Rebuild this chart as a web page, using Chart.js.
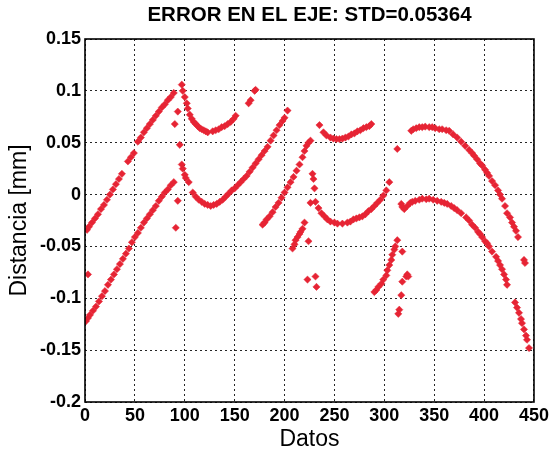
<!DOCTYPE html>
<html>
<head>
<meta charset="utf-8">
<script src="https://cdn.jsdelivr.net/npm/chart.js@4/dist/chart.umd.min.js"></script>
<style>
  html, body { margin: 0; padding: 0; background: #ffffff; }
  #wrap { width: 552px; height: 453px; }
</style>
</head>
<body>
<div id="wrap"><canvas id="errorChart" width="552" height="453"></canvas></div>
<script>
// Rama superior de la medida
const superiorX = [2, 4, 7, 10, 13, 16, 19, 22, 25, 28, 31, 34, 37, 43, 46, 49, 53, 56, 59, 62, 65, 68, 71, 74, 77, 80, 83, 86, 89,
    97, 98, 100, 102, 103, 105, 107, 109, 111, 113, 115, 117, 119, 121, 123, 128, 131, 134, 137, 140, 143, 146, 149, 151,
    164, 166, 170, 171,
    235, 239, 242, 246, 249, 252, 255, 258, 261, 264, 267, 270, 273, 276, 279, 282, 285, 287,
    327, 329, 332, 335, 338, 341, 345, 348, 351, 355, 358, 362, 365, 369, 373, 377, 381, 385, 388, 390, 393, 396, 398, 401,
    403, 405, 408, 411, 414, 416, 418, 421, 423, 426, 428, 430, 432, 434, 440, 441];
const superiorY = [-0.034, -0.031, -0.027, -0.023, -0.019, -0.014, -0.010, -0.005, 0.000, 0.005, 0.010, 0.015, 0.020, 0.032, 0.036, 0.040, 0.051, 0.055, 0.060, 0.064, 0.068, 0.072, 0.076, 0.080, 0.084, 0.087, 0.091, 0.094, 0.098,
    0.106, 0.100, 0.094, 0.088, 0.083, 0.077, 0.073, 0.070, 0.068, 0.066, 0.064, 0.063, 0.062, 0.061, 0.060, 0.061, 0.062, 0.063, 0.065, 0.066, 0.068, 0.070, 0.073, 0.076,
    0.088, 0.091, 0.100, 0.101,
    0.067, 0.060, 0.057, 0.055, 0.054, 0.0535, 0.0535, 0.054, 0.055, 0.056, 0.058, 0.059, 0.061, 0.062, 0.064, 0.065, 0.066, 0.068,
    0.0615, 0.063, 0.064, 0.065, 0.065, 0.0655, 0.065, 0.065, 0.064, 0.063, 0.063, 0.062, 0.0615, 0.058, 0.055, 0.051, 0.047, 0.043, 0.040, 0.0375, 0.034, 0.030, 0.028, 0.024,
    0.021, 0.018, 0.013, 0.009, 0.004, 0.000, -0.004, -0.011, -0.018, -0.022, -0.027, -0.031, -0.035, -0.041, -0.063, -0.066];

// Rama inferior
const inferiorX = [1, 3, 5, 8, 11, 14, 17, 20, 23, 26, 29, 32, 35, 38, 41, 44, 47, 50, 53, 56, 59, 62, 65, 68, 71, 74, 77, 80, 83, 86, 89,
    104, 108, 111, 114, 117, 120, 123, 126, 129, 132, 135, 138, 141, 144, 147, 150, 153, 156, 159, 162, 165, 168, 171, 174, 177, 180, 183, 186, 189, 192, 195, 198, 200, 203,
    178, 180, 182, 185, 188, 191, 194, 197, 200, 203, 206, 209, 212, 215, 218, 220, 222, 224, 226,
    228, 229, 230, 226, 231, 234, 237, 240, 243, 246, 250, 253, 258, 263, 266, 269, 272, 275, 278, 281, 284, 287, 290, 293, 296, 299, 302, 305,
    208, 210, 211, 213, 215, 216, 218, 220,
    290, 292, 294, 297, 299, 302, 303, 305, 307, 308, 310, 311, 313,
    317, 318, 320, 323, 326, 328, 331, 335, 338, 342, 345, 349, 353, 357, 360, 363, 367, 370, 373, 377, 382, 385, 388, 391, 394, 396, 398,
    401, 403, 405, 408, 412, 414, 416, 418, 420, 422, 423, 431, 433, 435, 437, 438, 440, 442, 443, 445];
const inferiorY = [-0.122, -0.119, -0.116, -0.112, -0.108, -0.103, -0.098, -0.093, -0.087, -0.082, -0.077, -0.072, -0.067, -0.062, -0.057, -0.052, -0.046, -0.041, -0.037, -0.032, -0.027, -0.023, -0.019, -0.015, -0.011, -0.006, -0.002, 0.002, 0.005, 0.009, 0.012,
    0.012, 0.002, -0.002, -0.005, -0.007, -0.009, -0.010, -0.011, -0.010, -0.009, -0.007, -0.005, -0.002, 0.001, 0.004, 0.006, 0.009, 0.012, 0.015, 0.018, 0.022, 0.026, 0.030, 0.034, 0.038, 0.042, 0.046, 0.052, 0.057, 0.062, 0.067, 0.071, 0.074, 0.081,
    -0.029, -0.027, -0.024, -0.021, -0.017, -0.012, -0.008, -0.003, 0.002, 0.007, 0.012, 0.017, 0.023, 0.029, 0.036, 0.042, 0.047, 0.050, 0.052,
    0.020, 0.015, 0.006, -0.008, -0.007, -0.013, -0.018, -0.021, -0.024, -0.026, -0.027, -0.028, -0.028, -0.027, -0.026, -0.024, -0.023, -0.022, -0.021, -0.019, -0.016, -0.014, -0.011, -0.008, -0.005, -0.001, 0.004, 0.012,
    -0.052, -0.048, -0.044, -0.041, -0.038, -0.036, -0.033, -0.027,
    -0.094, -0.092, -0.089, -0.086, -0.082, -0.078, -0.073, -0.068, -0.063, -0.058, -0.053, -0.050, -0.044,
    -0.009, -0.012, -0.014, -0.011, -0.008, -0.007, -0.006, -0.005, -0.004, -0.0045, -0.004, -0.005, -0.006, -0.007, -0.008, -0.009, -0.011, -0.013, -0.015, -0.018, -0.022, -0.025, -0.029, -0.032, -0.036, -0.038, -0.041,
    -0.045, -0.047, -0.050, -0.055, -0.060, -0.064, -0.068, -0.072, -0.077, -0.082, -0.087, -0.104, -0.109, -0.114, -0.120, -0.124, -0.130, -0.136, -0.140, -0.148];

// Puntos sueltos
const sueltosX = [3, 90, 93, 95, 97, 98, 100, 101, 93, 91, 224, 223, 231, 232, 313, 318, 322, 323, 324, 318, 317, 315, 314];
const sueltosY = [-0.077, 0.068, 0.080, 0.048, 0.029, 0.025, 0.019, 0.016, -0.006, -0.032, -0.045, -0.082, -0.079, -0.089, 0.044, -0.055, -0.079, -0.077, -0.079, -0.084, -0.097, -0.111, -0.115];

const xTicks = [0, 50, 100, 150, 200, 250, 300, 350, 400, 450];
const yTicks = [-0.2, -0.15, -0.1, -0.05, 0, 0.05, 0.1, 0.15];

const ROJO = 'rgb(230, 36, 52)';
const FUENTE = '"Liberation Sans", Arial, Helvetica, sans-serif';

function puntos(xs, ys) {
    return xs.map((x, i) => ({ x: x, y: ys[i] }));
}

function serie(label, xs, ys) {
    return {
        label: label,
        data: puntos(xs, ys),
        pointStyle: 'rectRot',
        pointRadius: 3.6,
        pointBackgroundColor: ROJO,
        pointBorderColor: ROJO,
        pointBorderWidth: 0.5,
        showLine: false
    };
}

// Marco negro alrededor del area de datos
const marco = {
    id: 'marco',
    afterDraw(chart) {
        const { ctx, chartArea: a } = chart;
        ctx.save();
        ctx.strokeStyle = '#000000';
        ctx.lineWidth = 1.6;
        ctx.setLineDash([]);
        ctx.strokeRect(a.left, a.top, a.right - a.left, a.bottom - a.top);
        ctx.restore();
    }
};

const ctx = document.getElementById('errorChart').getContext('2d');

new Chart(ctx, {
    type: 'scatter',
    data: {
        datasets: [
            serie('superior', superiorX, superiorY),
            serie('inferior', inferiorX, inferiorY),
            serie('sueltos', sueltosX, sueltosY)
        ]
    },
    options: {
        responsive: false,
        animation: false,
        events: [],
        layout: { padding: { top: 0, right: 16, bottom: 0, left: 0 } },
        plugins: {
            legend: { display: false },
            tooltip: { enabled: false },
            title: {
                display: true,
                fullSize: false,
                text: 'ERROR EN EL EJE: STD=0.05364',
                color: '#000000',
                font: { family: FUENTE, size: 20.5, weight: 'bold', lineHeight: 1.2 },
                padding: { top: 3, bottom: 11.4 }
            }
        },
        scales: {
            x: {
                type: 'linear',
                min: 0,
                max: 450,
                afterBuildTicks: (scale) => { scale.ticks = xTicks.map(v => ({ value: v })); },
                afterFit: (scale) => { scale.height = 51; },
                grid: { color: 'rgba(0,0,0,0.85)', lineWidth: 1, drawTicks: false },
                border: { display: false, dash: [2, 3] },
                ticks: {
                    color: '#000000',
                    padding: 3,
                    maxRotation: 0,
                    font: { family: FUENTE, size: 18, weight: 'bold' }
                },
                title: {
                    display: true,
                    text: 'Datos',
                    color: '#000000',
                    font: { family: FUENTE, size: 23 },
                    padding: { top: 0, bottom: 0 }
                }
            },
            y: {
                type: 'linear',
                min: -0.2,
                max: 0.15,
                afterBuildTicks: (scale) => { scale.ticks = yTicks.map(v => ({ value: v })); },
                afterFit: (scale) => { scale.width = 85; },
                grid: { color: 'rgba(0,0,0,0.85)', lineWidth: 1, drawTicks: false },
                border: { display: false, dash: [2, 3] },
                ticks: {
                    color: '#000000',
                    padding: 4,
                    font: { family: FUENTE, size: 18, weight: 'bold' },
                    callback: (value) => String(Number(value.toFixed(2)))
                },
                title: {
                    display: true,
                    text: 'Distancia [mm]',
                    color: '#000000',
                    font: { family: FUENTE, size: 23 },
                    padding: { top: 6, bottom: 0 }
                }
            }
        }
    },
    plugins: [marco]
});
</script>
</body>
</html>
